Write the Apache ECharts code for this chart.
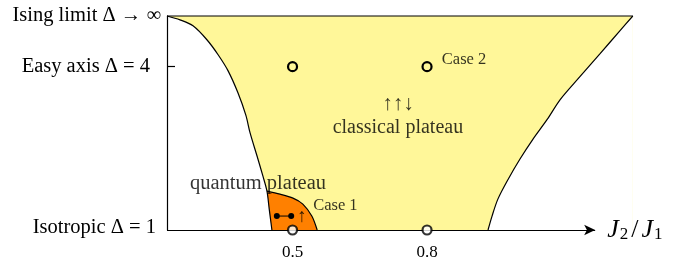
<!DOCTYPE html>
<html>
<head>
<meta charset="utf-8">
<script src="https://cdn.jsdelivr.net/npm/echarts@6/dist/echarts.min.js"></script>
<style>
  html, body { margin: 0; padding: 0; background: #fff; }
  #chart { width: 676px; height: 261px; }
</style>
</head>
<body>
<div id="chart"></div>
<script>
// x = J2/J1, y = anisotropy Delta (top edge stands for the Ising limit)
var xMin = 0.22, xMax = 1.275, xArrowEnd = 1.175;
var yMin = 1, yTop = 4.93;

var xTicks = [0.5, 0.8];
var yTicks = [1, 4, yTop];
var yTickNames = ['Isotropic Δ = 1', 'Easy axis Δ = 4', 'Ising limit Δ → ∞'];

// phase boundaries
var topEdge = [[0.22, 4.93], [1.259, 4.93]];
var leftBoundary = [
  [0.22, 4.93], [0.249, 4.859], [0.278, 4.75], [0.309, 4.494], [0.334, 4.219],
  [0.356, 3.927], [0.378, 3.524], [0.396, 3.104], [0.405, 2.793], [0.421, 2.354],
  [0.434, 1.988], [0.443, 1.713], [0.448, 1.384], [0.454, 1.0]
];
var quantumBoundary = [
  [0.443, 1.713], [0.472, 1.658], [0.501, 1.585], [0.523, 1.476], [0.543, 1.256], [0.555, 1.0]
];
var rightBoundary = [
  [0.936, 1.0], [0.945, 1.256], [0.958, 1.567], [0.981, 1.933], [1.007, 2.299],
  [1.036, 2.665], [1.068, 3.03], [1.097, 3.396], [1.141, 3.817], [1.186, 4.238],
  [1.23, 4.658], [1.259, 4.93]
];

// studied parameter points
var easyPoints = [[0.5, 4], [0.8, 4]];
var isoPoints = [[0.5, 1], [0.8, 1]];
var spinDots = [[0.465, 1.256], [0.497, 1.256]];

// text annotations: [x, y, text, align, size, font]
var notes = [
  [0.423, 1.86, 'quantum plateau', 'center', 20.5, 'Liberation Serif'],
  [0.546, 1.44, 'Case 1', 'left', 16.5, 'Liberation Serif'],
  [0.833, 4.128, 'Case 2', 'left', 16.5, 'Liberation Serif'],
  [0.735, 3.3, '↑↑↓', 'center', 21, 'Liberation Serif'],
  [0.735, 2.884, 'classical plateau', 'center', 20, 'Liberation Serif'],
  [0.521, 1.238, '↑', 'center', 19, 'Liberation Serif']
];

var FONT = 'Liberation Serif';
var YELLOW = '#fff799';
var ORANGE = '#ff8000';

var chart = echarts.init(document.getElementById('chart'));

var option = {
  animation: false,
  grid: { left: 167, right: 36, top: 16, bottom: 30 },
  xAxis: {
    type: 'value',
    min: xMin,
    max: xMax,
    axisLine: { show: false },
    axisTick: { show: false },
    splitLine: { show: false },
    axisLabel: {
      customValues: xTicks,
      margin: 14,
      color: '#000',
      fontFamily: FONT,
      fontSize: 17,
      formatter: function (v) { return v.toFixed(1); }
    }
  },
  yAxis: {
    type: 'value',
    min: yMin,
    max: yTop,
    z: 10,
    axisLine: { show: true, lineStyle: { color: '#000', width: 1.2 } },
    axisTick: { show: true, customValues: [4], inside: true, length: 8, lineStyle: { color: '#000', width: 1.2 } },
    splitLine: { show: false },
    axisLabel: {
      customValues: yTicks,
      margin: 6,
      color: '#000',
      fontFamily: FONT,
      fontSize: 20.5,
      formatter: function (v) {
        var i = yTicks.indexOf(v);
        if (i === 0) return '{i|' + yTickNames[i] + '}';
        if (i === 1) return '{e|' + yTickNames[i] + '}';
        return i >= 0 ? yTickNames[i] : '';
      },
      rich: {
        i: { fontFamily: FONT, fontSize: 20.5, color: '#000', padding: [0, 5, 5, 0] },
        e: { fontFamily: FONT, fontSize: 20.5, color: '#000', padding: [0, 11, 0, 0] }
      }
    }
  },
  series: [
    {
      type: 'line', data: topEdge, clip: false, symbol: 'none',
      lineStyle: { color: '#000', width: 1.2 },
      areaStyle: { color: YELLOW, opacity: 1, origin: 'start' }
    },
    {
      type: 'line', data: quantumBoundary, clip: false, symbol: 'none', smooth: 0.3,
      lineStyle: { color: '#000', width: 1.2 },
      areaStyle: { color: ORANGE, opacity: 1, origin: 'start' }
    },
    {
      type: 'line', data: leftBoundary, clip: false, symbol: 'none', smooth: 0.3,
      lineStyle: { color: '#000', width: 1.2 },
      areaStyle: { color: '#fff', opacity: 1, origin: 'start' }
    },
    {
      type: 'line', data: rightBoundary, clip: false, symbol: 'none', smooth: 0.3,
      lineStyle: { color: '#000', width: 1.2 },
      areaStyle: { color: '#fff', opacity: 1, origin: 'start' }
    },
    {
      // horizontal axis with arrow
      type: 'line', data: [], symbol: 'none',
      markLine: {
        silent: true,
        symbol: ['none', 'arrow'],
        symbolSize: [8, 11],
        lineStyle: { color: '#000', width: 1.2, type: 'solid' },
        label: {
          show: true,
          position: 'end',
          distance: 12,
          formatter: '{j|J}{s|2}{k|/}{j|J}{s|1}',
          rich: {
            j: { fontFamily: FONT, fontStyle: 'italic', fontSize: 26, color: '#000' },
            k: { fontFamily: FONT, fontSize: 26, color: '#000', padding: [0, 3, 0, 3] },
            s: { fontFamily: FONT, fontSize: 17, color: '#000', verticalAlign: 'bottom', padding: [10, 0, 0, 1] }
          }
        },
        data: [[{ coord: [xMin, yMin] }, { coord: [xArrowEnd, yMin] }]]
      }
    },
    {
      type: 'line', data: spinDots, clip: false, symbol: 'circle', symbolSize: 6,
      itemStyle: { color: '#000' },
      lineStyle: { color: '#000', width: 1 }
    },
    {
      type: 'scatter', data: easyPoints, clip: false, symbol: 'circle', symbolSize: 9, z: 12,
      itemStyle: { color: YELLOW, borderColor: '#000', borderWidth: 2.2, opacity: 1 }
    },
    {
      type: 'scatter', data: isoPoints, clip: false, symbol: 'circle', symbolSize: 9, z: 12,
      itemStyle: { color: '#fff', borderColor: '#000', borderWidth: 2.2 }
    },
    {
      type: 'scatter', clip: false, symbolSize: 1, silent: true, z: 11,
      itemStyle: { color: 'rgba(0,0,0,0)' },
      data: notes.map(function (n) {
        return {
          value: [n[0], n[1]],
          label: {
            show: true, position: 'inside', formatter: n[2], align: n[3],
            fontFamily: n[5], fontSize: n[4], color: '#000'
          }
        };
      })
    }
  ]
};

chart.setOption(option);
</script>
</body>
</html>
